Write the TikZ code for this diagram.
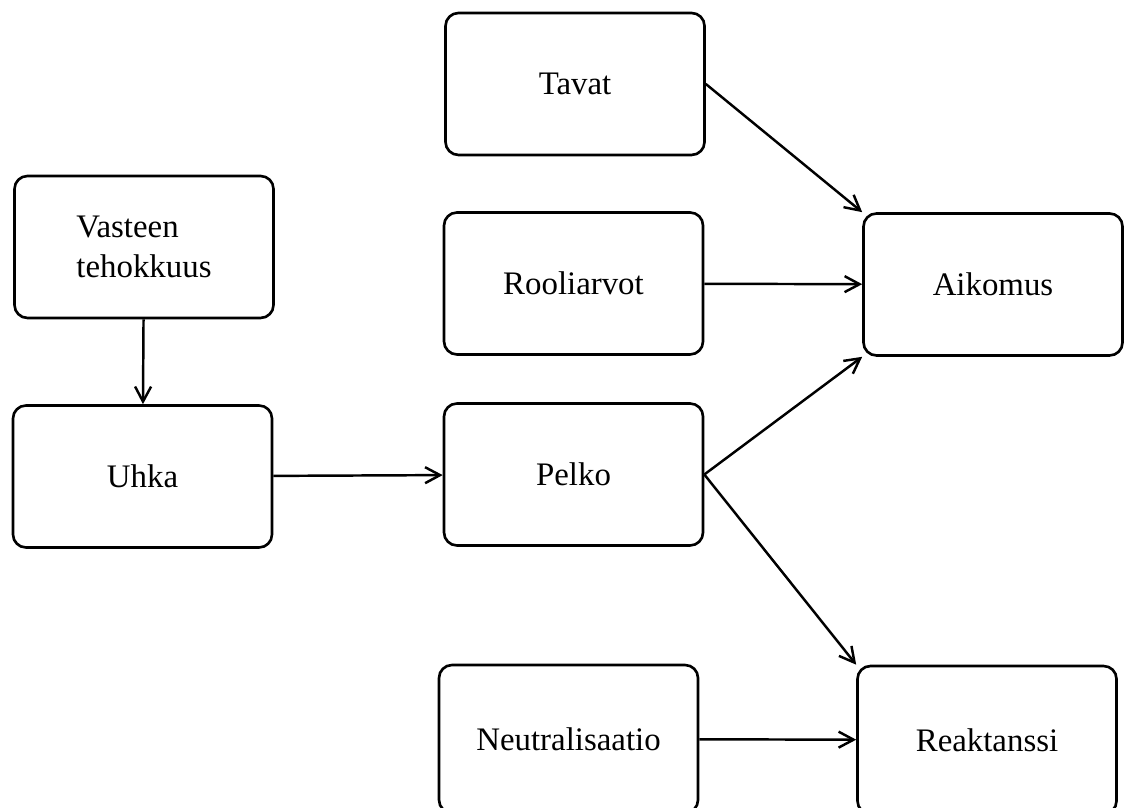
\documentclass[tikz,border=0pt]{standalone}
\usepackage{fontspec}
\setmainfont{Liberation Serif}
\usetikzlibrary{arrows.meta,
  positioning
}
\tikzstyle{box} = [draw, rectangle, rounded corners=0.26cm, line width=1.5,
  minimum width=5.18cm, minimum height=2.84cm,
  font=\fontsize{18.7}{22.7}\selectfont]
\tikzstyle{link} = [line width=1.4, -{Straight Barb[length=3mm,width=3.2mm]}]

\begin{document}
\begin{tikzpicture}
  \useasboundingbox (0, 0) rectangle (22.5, 16.14);
  \clip (0, 0) rectangle (22.5, 16.14);

  % left column
  \path (2.88, 11.2) node[box, align=left] (vasteen) {Vasteen\\tehokkuus};
  \path (2.85, 6.61) node[box] (uhka) {Uhka};

  % middle column
  \path (11.5, 14.46) node[box] (tavat) {Tavat};
  \path (11.47, 10.47) node[box] (rooli) {Rooliarvot};
  \path (11.47, 6.65) node[box] (pelko) {Pelko};
  \path (11.37, 1.36) node[box, minimum height=2.96cm] (neutral) {Neutralisaatio};

  % right column
  \path (19.74, 1.34) node[box, minimum height=2.96cm] (reakt) {Reaktanssi};
  \path (19.86, 10.45) node[box] (aikomus) {Aikomus};

  \draw[link] (vasteen) -- (uhka);
  \draw[link] (uhka) -- (pelko);
  \draw[link] (tavat.east) -- (aikomus.north west);
  \draw[link] (rooli) -- (aikomus);
  \draw[link] (pelko.east) -- (aikomus.south west);
  \draw[link] (pelko.east) -- (reakt.north west);
  \draw[link] (neutral) -- (reakt);
\end{tikzpicture}
\end{document}
